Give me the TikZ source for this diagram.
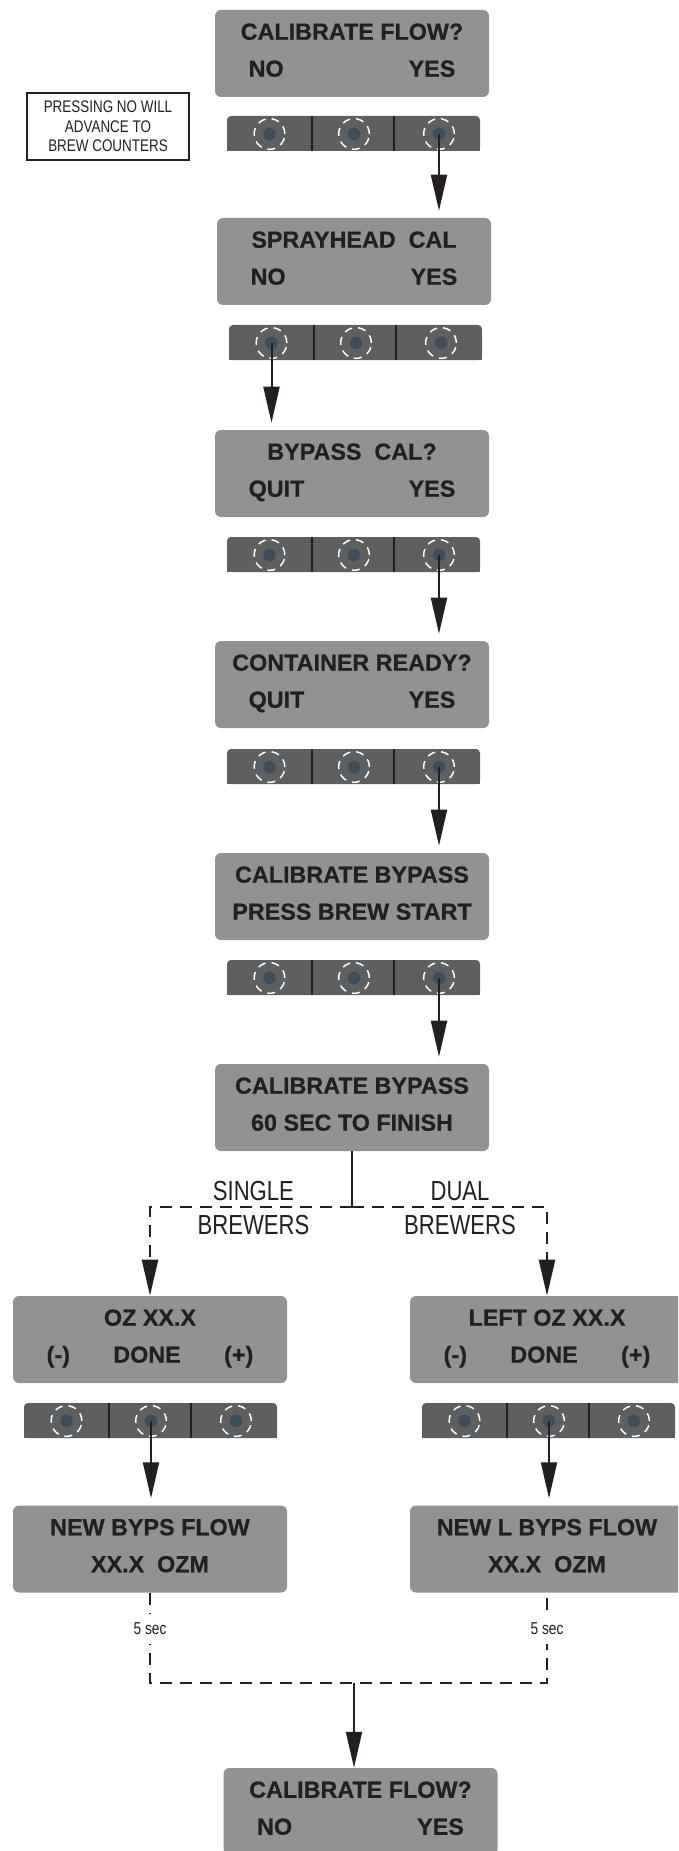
\documentclass[tikz,border=0pt]{standalone}
\usepackage{fontspec}
\setmainfont{Liberation Sans}
\newfontfamily\lcdfont[FakeStretch=1.0,FakeBold=0.6]{Liberation Sans}
\newfontfamily\narrowfont[FakeStretch=0.8]{Liberation Sans}
\usepackage{xcolor}
\usepackage{tikz}
\usetikzlibrary{calc,arrows.meta}

\definecolor{lcdgray}{HTML}{929292}
\definecolor{barcol}{HTML}{5E5F61}
\definecolor{dotcol}{HTML}{3F4D59}
\definecolor{ink}{HTML}{231F20}

\begin{document}
\begin{tikzpicture}[x=0.75pt,y=-0.75pt,
    lcd/.style={fill=lcdgray,rounded corners=4.5pt,minimum width=205.5pt,minimum height=65.25pt,inner sep=0pt},
    lcdtxt/.style={font=\lcdfont\bfseries\fontsize{17.5}{19}\selectfont,text=ink,inner sep=0pt},
    knob/.style={circle,draw=white,line width=1.1pt,dash pattern=on 6pt off 4.5pt,minimum size=23pt,inner sep=0pt,
        path picture={\fill[dotcol] (path picture bounding box.center) circle (4.7pt);}},
    flow/.style={ink,line width=1.5pt,-{Triangle[length=27pt,width=12pt]}},
    dashflow/.style={ink,line width=1.8pt,dash pattern=on 9pt off 6pt},
    tag/.style={font=\narrowfont\fontsize{20.7}{24}\selectfont,text=ink,inner sep=0pt},
    sec/.style={font=\narrowfont\fontsize{12.9}{14}\selectfont,text=ink,fill=white,inner xsep=1pt,inner ysep=7pt}]

    \useasboundingbox (0,0) rectangle (678,1851);
    \clip (0,0) rectangle (678,1851);

    %displays
    \foreach \nm/\cx/\cy/\lineA/\lineB in {
        calflow/352/53.5/{CALIBRATE FLOW?}/{NO\hfill YES},
        sprayhd/354/261.5/{SPRAYHEAD\ \ CAL}/{NO\hfill YES},
        bypcal/352/473.5/{BYPASS\ \ CAL?}/{QUIT\hfill YES},
        contrdy/352/684.5/{CONTAINER READY?}/{QUIT\hfill YES},
        calbyp/352/896.5/{CALIBRATE BYPASS}/{\hss PRESS BREW START\hss},
        calfin/352/1107.5/{CALIBRATE BYPASS}/{\hss 60 SEC TO FINISH\hss},
        ozsingle/150/1339.5/{OZ XX.X}/{(-)\hfill DONE\hfill (+)},
        ozdual/547/1339.5/{LEFT OZ XX.X}/{(-)\hfill DONE\hfill (+)},
        newflow/150/1549/{NEW BYPS FLOW}/{\hss XX.X\ \ OZM\hss},
        newlflow/547/1549/{NEW L BYPS FLOW}/{\hss XX.X\ \ OZM\hss},
        calflow2/360.5/1811.5/{CALIBRATE FLOW?}/{NO\hfill YES}}{
        \node[lcd] (\nm) at (\cx,\cy) {};
        \node[lcdtxt,anchor=base] (\nm-a) at ($(\nm.north)+(0,30)$) {\lineA};
        \node[lcdtxt,anchor=base] (\nm-b) at ($(\nm.north)+(0,67)$) {\hbox to 155pt{\lineB}};
    }

    %button bars
    \foreach \bn/\bx/\by in {ba/227/116,bb/229/325,bc/227/537,bd/227/749,be/227/960,bf/24/1403,bg/422/1403}{
        \fill[barcol,rounded corners=3pt] (\bx,\by) rectangle (\bx+253,\by+35);
        \fill[barcol] (\bx,\by+12) rectangle (\bx+253,\by+35);
        \draw[ink,line width=0.8pt] (\bx+85,\by) -- (\bx+85,\by+35) (\bx+167,\by) -- (\bx+167,\by+35);
        \node[knob] (\bn1) at (\bx+42.5,\by+18) {};
        \node[knob] (\bn2) at (\bx+127,\by+18) {};
        \node[knob] (\bn3) at (\bx+212,\by+18) {};
    }

    %note
    \node[draw=ink,line width=2pt,minimum width=121.5pt,minimum height=50.25pt,inner sep=0pt,align=center,
        font=\narrowfont\fontsize{12.6}{14.6}\selectfont,text=ink] (note) at (108,126.5)
        {PRESSING NO WILL\\ADVANCE TO\\BREW COUNTERS};

    %key presses
    \draw[flow,shorten >=5.25pt] (ba3.center) -- (ba3.center |- sprayhd.north);
    \draw[flow,shorten >=5.25pt] (bb1.center) -- (bb1.center |- bypcal.north);
    \draw[flow,shorten >=5.25pt] (bc3.center) -- (bc3.center |- contrdy.north);
    \draw[flow,shorten >=5.25pt] (bd3.center) -- (bd3.center |- calbyp.north);
    \draw[flow,shorten >=5.25pt] (be3.center) -- (be3.center |- calfin.north);
    \draw[flow,shorten >=5.25pt] (bf2.center) -- (bf2.center |- newflow.north);
    \draw[flow,shorten >=5.25pt] (bg2.center) -- (bg2.center |- newlflow.north);

    %single / dual split
    \coordinate (split) at ($(calfin.south)+(0,56)$);
    \draw[ink,line width=1.5pt] (calfin.south) -- (split);
    \draw[dashflow,-{Triangle[length=27pt,width=12pt]}] (split) -| node[tag,pos=0.244,above=3.75pt] (single) {SINGLE}
        node[tag,pos=0.244,below=5.25pt] (singleb) {BREWERS} (ozsingle.north);
    \draw[dashflow,-{Triangle[length=27pt,width=12pt]}] (split) -| node[tag,pos=0.277,above=3.75pt] (dual) {DUAL}
        node[tag,pos=0.277,below=5.25pt] (dualb) {BREWERS} (ozdual.north);

    %back to start
    \coordinate (merge) at (354,1683);
    \draw[dashflow] (newflow.south) -- node[sec,pos=0.4] (secl) {5 sec} (newflow.south |- merge)
        -- (newlflow.south |- merge) -- node[sec,pos=0.6] (secr) {5 sec} (newlflow.south);
    \draw[flow] (merge) -- (merge |- calflow2.north);

\end{tikzpicture}
\end{document}
